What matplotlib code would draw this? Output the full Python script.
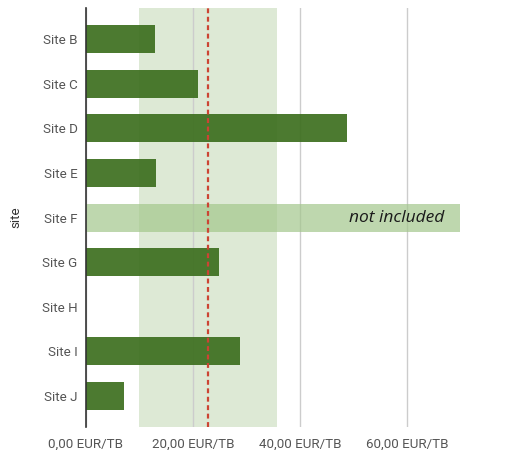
import numpy as np
import matplotlib.pyplot as plt

sites = ["Site B", "Site C", "Site D", "Site E", "Site F", "Site G", "Site H", "Site I", "Site J"]
cost = [12.9, 20.9, 48.8, 13.1, None, 24.9, None, 28.8, 7.1]
excluded = ["Site F"]
band_lo, band_hi = 10.0, 35.7
average = 22.8
xmax = 70
ticks = [0, 20, 40, 60]
tick_labels = ["0,00 EUR/TB", "20,00 EUR/TB", "40,00 EUR/TB", "60,00 EUR/TB"]

plt.rcParams['font.family'] = ['Roboto', 'DejaVu Sans']

fig = plt.figure(figsize=(5.08, 4.5), dpi=100)
ax = fig.add_axes([0.169, 0.051, 0.737, 0.931])

y = np.arange(len(sites))
ax.axvspan(band_lo, band_hi, color='#dde9d5', zorder=0, lw=0)

for i, (s, v) in enumerate(zip(sites, cost)):
    if s in excluded:
        ax.barh(i, xmax, height=0.63, color='#a3c78c', alpha=0.7, zorder=2, lw=0)
        ax.text(67.1, i, "not included", ha='right', va='center',
                style='italic', fontsize=12.5, family=['Open Sans', 'DejaVu Sans'],
                color='#1a1a1a', zorder=3)
    elif v is not None:
        ax.barh(i, v, height=0.63, color='#3e7020', alpha=0.93, zorder=2, lw=0)

ax.axvline(average, color='#cc4433', lw=1.6, ls=(0, (2.2, 1.6)), zorder=4)

ax.set_xlim(0, xmax)
ax.set_ylim(len(sites) - 0.3, -0.7)
ax.set_yticks(y)
ax.set_yticklabels(sites)
ax.set_xticks(ticks)
ax.set_xticklabels(tick_labels)
ax.tick_params(length=0, labelsize=9.6, labelcolor='#555555', pad=6)
ax.tick_params(axis='x', pad=7.5)
ax.grid(axis='x', color='#cccccc', lw=1, zorder=1)
ax.set_axisbelow(True)
for side in ['top', 'right', 'bottom']:
    ax.spines[side].set_visible(False)
ax.spines['left'].set_color('#333333')
ax.spines['left'].set_linewidth(1.2)
ax.set_ylabel("site", fontsize=9.6, color='#333333', labelpad=14)

fig.savefig("out.png", dpi=100)
